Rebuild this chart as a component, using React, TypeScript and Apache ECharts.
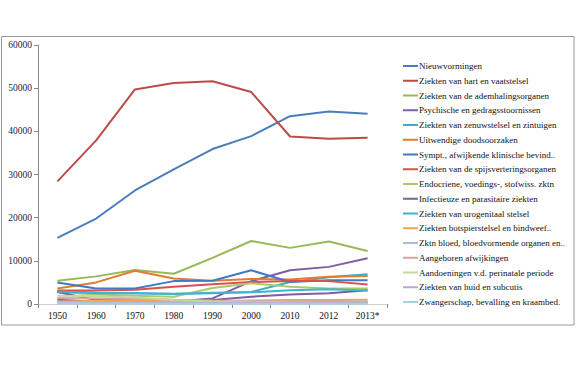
import React, { useEffect, useRef } from "react";
import * as echarts from "echarts";

const categories = ["1950", "1960", "1970", "1980", "1990", "2000", "2010", "2012", "2013*"];

const seriesNames = [
  "Nieuwvormingen",
  "Ziekten van hart en vaatstelsel",
  "Ziekten van de ademhalingsorganen",
  "Psychische en gedragsstoornissen",
  "Ziekten van zenuwstelsel en zintuigen",
  "Uitwendige doodsoorzaken",
  "Sympt., afwijkende klinische bevind..",
  "Ziekten van de spijsverteringsorganen",
  "Endocriene, voedings-, stofwiss. zktn",
  "Infectieuze en parasitaire ziekten",
  "Ziekten van urogenitaal stelsel",
  "Ziekten botspierstelsel en bindweef..",
  "Zktn bloed, bloedvormende organen en..",
  "Aangeboren afwijkingen",
  "Aandoeningen v.d. perinatale periode",
  "Ziekten van huid en subcutis",
  "Zwangerschap, bevalling en kraambed.",
];

const nieuwvormingen = [15300, 19800, 26300, 31200, 35900, 38900, 43500, 44600, 44100];
const hartVaat = [28400, 37900, 49700, 51200, 51600, 49100, 38800, 38300, 38500];
const ademhaling = [5400, 6400, 7900, 7000, 10700, 14600, 13000, 14500, 12300];
const psychische = [1000, 500, 500, 600, 1300, 5300, 7800, 8600, 10600];
const zenuwstelsel = [3000, 2600, 2500, 2400, 2500, 2800, 5100, 6200, 6900];
const uitwendige = [3600, 5000, 7700, 5900, 5400, 5800, 5700, 6300, 6500];
const symptomen = [5000, 3600, 3600, 5300, 5400, 7800, 5100, 5500, 5500];
const spijsvertering = [3100, 3100, 3300, 4000, 4600, 5100, 5300, 5300, 4500];
const endocriene = [2800, 2200, 1900, 1700, 3700, 4800, 4000, 3600, 3600];
const infectieuze = [2800, 900, 800, 700, 900, 1700, 2200, 2500, 3200];
const urogenitaal = [2900, 2500, 2500, 2300, 2600, 2700, 3200, 3400, 3100];
const botspier = [600, 700, 800, 700, 600, 800, 900, 900, 1000];
const bloed = [500, 400, 400, 400, 400, 500, 500, 500, 500];
const aangeboren = [1400, 1300, 1300, 1000, 800, 700, 600, 500, 500];
const perinataal = [1900, 1800, 1500, 900, 600, 500, 400, 300, 300];
const huid = [200, 200, 200, 200, 200, 300, 300, 300, 300];
const zwangerschap = [200, 100, 100, 50, 50, 50, 50, 50, 50];

const allData = [
  nieuwvormingen, hartVaat, ademhaling, psychische, zenuwstelsel, uitwendige,
  symptomen, spijsvertering, endocriene, infectieuze, urogenitaal, botspier,
  bloed, aangeboren, perinataal, huid, zwangerschap,
];

const colors = [
  "#4A7EBB", "#BE4B48", "#98B954", "#7D60A0", "#46AAC5", "#E07B30",
  "#3F7AC6", "#D9504C", "#A9CB6C", "#7B5FA0", "#3DB4D0", "#F9A055",
  "#A8BCDA", "#D9A3A1", "#C3D69B", "#B8A9CE", "#A3D1E3",
];

const FONT = "Liberation Serif";

export default function App() {
  const ref = useRef<HTMLDivElement>(null);
  useEffect(() => {
    if (!ref.current) return;
    const chart = echarts.init(ref.current, null, { renderer: "svg" });
    chart.setOption({
      animation: false,
      backgroundColor: "#ffffff",
      color: colors,
      graphic: [
        {
          type: "rect",
          shape: { x: 1.5, y: 36.5, width: 572.5, height: 288.5 },
          style: { fill: "none", stroke: "#9a9a9a", lineWidth: 1 },
          z: -1,
        },
      ],
      grid: { left: 38, right: 189, top: 45, bottom: 79, containLabel: false },
      legend: {
        orient: "vertical",
        left: 398,
        top: 55,
        icon: "rect",
        itemWidth: 15,
        itemHeight: 2,
        itemGap: 2.75,
        data: seriesNames,
        textStyle: {
          fontFamily: FONT,
          fontSize: 9,
          color: "#111",
          lineHeight: 12,
          padding: [0, 0, 0, -4],
        },
      },
      xAxis: {
        type: "category",
        data: categories,
        boundaryGap: true,
        axisLine: { show: true, lineStyle: { color: "#d0d0d0", width: 1 } },
        axisTick: { show: true, length: 4, lineStyle: { color: "#888" } },
        axisLabel: { fontFamily: FONT, fontSize: 9.5, color: "#111", margin: 7 },
        splitLine: { show: false },
      },
      yAxis: {
        type: "value",
        min: 0,
        max: 60000,
        interval: 10000,
        axisLine: { show: true, lineStyle: { color: "#888", width: 1 } },
        axisTick: { show: true, length: 4, lineStyle: { color: "#888" } },
        axisLabel: {
          fontFamily: FONT,
          fontSize: 9.5,
          color: "#1a2340",
          margin: 6,
          formatter: (v: number) => String(v),
        },
        splitLine: { show: false },
      },
      series: seriesNames.map((name, i) => ({
        name,
        type: "line",
        data: allData[i],
        showSymbol: false,
        symbol: "none",
        lineStyle: { width: 2, color: colors[i] },
        itemStyle: { color: colors[i] },
        z: 2 + i,
      })),
    });
    return () => chart.dispose();
  }, []);
  return (
    <div
      ref={ref}
      style={{ position: "absolute", left: 0, top: 0, width: 576, height: 383 }}
    />
  );
}
